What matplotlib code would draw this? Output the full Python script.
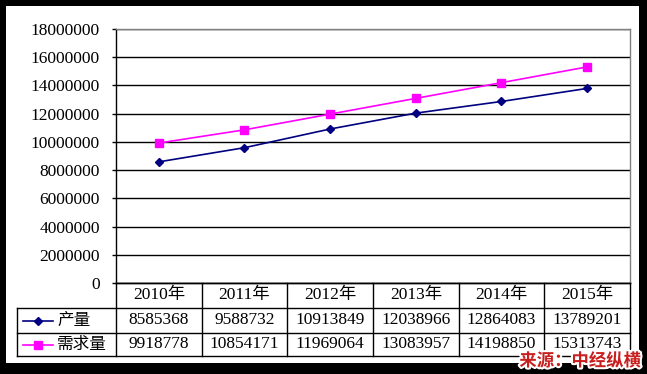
import matplotlib.pyplot as plt
import matplotlib.patheffects as pe
from matplotlib.patches import Rectangle
from matplotlib.lines import Line2D

years = ['2010年', '2011年', '2012年', '2013年', '2014年', '2015年']
output = [8585368, 9588732, 10913849, 12038966, 12864083, 13789201]
demand = [9918778, 10854171, 11969064, 13083957, 14198850, 15313743]
series_names = ['产量', '需求量']
yticks = list(range(0, 18000001, 2000000))

W, H = 647, 374
fam = ['Liberation Serif', 'Noto Sans CJK SC']
cjk = ['Noto Sans CJK SC', 'DejaVu Sans']
fs = 12.5

fig = plt.figure(figsize=(W / 100, H / 100), dpi=100, facecolor='black')
# white panel inside the black frame
fig.patches.append(Rectangle((6 / W, 1 - 363 / H), 633 / W, 357 / H,
                             transform=fig.transFigure, facecolor='white',
                             edgecolor='none', zorder=-10))

def fx(px):
    return px / W

def fy(py):
    return 1 - py / H

left, right, top, bottom = 116, 630, 29, 283
ax = fig.add_axes([fx(left), fy(bottom), fx(right) - fx(left), fy(top) - fy(bottom)])
ax.set_facecolor('white')
x = range(len(years))
ax.plot(x, output, color='#000080', marker='D', markersize=4.5, lw=1.2, zorder=3)
ax.plot(x, demand, color='#FF00FF', marker='s', markersize=5.5, lw=1.2, zorder=3)
ax.set_xlim(-0.5, len(years) - 0.5)
ax.set_ylim(0, 18000000)
ax.set_yticks(yticks)
ax.set_yticklabels([str(v) for v in yticks], family=fam, fontsize=fs)
ax.tick_params(axis='y', length=3, width=1, pad=8.5, colors='black')
ax.set_xticks([])
ax.grid(axis='y', color='black', lw=1)
ax.set_axisbelow(True)
ax.spines['left'].set_color('black')
ax.spines['bottom'].set_color('black')
ax.spines['top'].set_color('#808080')
ax.spines['right'].set_color('#808080')
for s in ax.spines.values():
    s.set_linewidth(1)

# data table below the plot
tf = fig.transFigure
col_w = (right - left) / len(years)
rows = [283, 308, 333, 356]
lk = dict(color='black', lw=1, transform=tf)
fig.add_artist(Line2D([fx(left), fx(right)], [fy(rows[0])] * 2, **lk))
for r in rows[1:]:
    fig.add_artist(Line2D([fx(17), fx(right)], [fy(r)] * 2, **lk))
fig.add_artist(Line2D([fx(17)] * 2, [fy(rows[1]), fy(rows[3])], **lk))
for i in range(len(years) + 1):
    xx = left + i * col_w
    fig.add_artist(Line2D([fx(xx)] * 2, [fy(rows[0]), fy(rows[3])], **lk))

for i, yr in enumerate(years):
    cx = fx(left + (i + 0.5) * col_w)
    fig.text(cx, fy((rows[0] + rows[1]) / 2), yr, family=fam, fontsize=fs,
             ha='center', va='center')
    fig.text(cx, fy((rows[1] + rows[2]) / 2), str(output[i]), family=fam,
             fontsize=fs, ha='center', va='center')
    fig.text(cx, fy((rows[2] + rows[3]) / 2), str(demand[i]), family=fam,
             fontsize=fs, ha='center', va='center')

# legend keys in the row headers
keys = [('#000080', 'D', 4.5), ('#FF00FF', 's', 5.5)]
for j, (c, m, ms) in enumerate(keys):
    cy = fy((rows[j + 1] + rows[j + 2]) / 2)
    fig.add_artist(Line2D([fx(23), fx(53)], [cy, cy], color=c, lw=1.2, transform=tf))
    fig.add_artist(Line2D([fx(38)], [cy], color=c, marker=m, markersize=ms,
                          transform=tf))
    fig.text(fx(57), cy, series_names[j], family=cjk, fontsize=12,
             ha='left', va='center')

fig.text(fx(641), fy(361), '来源：中经纵横', family=cjk, fontsize=12.5,
         fontweight='bold', color='#C81E1E', ha='right', va='center',
         path_effects=[pe.withStroke(linewidth=3, foreground='white')])

fig.savefig('out.png', dpi=100, facecolor='black')
